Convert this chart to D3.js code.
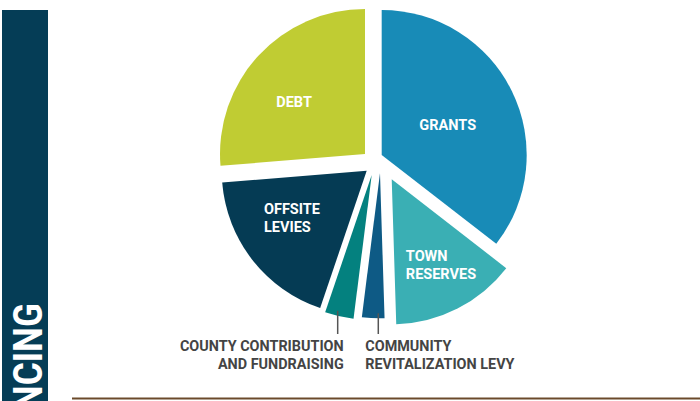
<!DOCTYPE html>
<html>
<head>
<meta charset="utf-8">
<script src="https://cdn.jsdelivr.net/npm/d3@7"></script>
<style>
  html, body { margin: 0; padding: 0; background: #fff; }
  svg { display: block; }
  .lbl { font-family: Roboto, "Liberation Sans", sans-serif; font-weight: 700; }
</style>
</head>
<body>
<svg id="chart" width="700" height="401"></svg>
<script>
/* ── DATI ─────────────────────────────────────── */
const categorie = ["GRANTS", "TOWN RESERVES", "COMMUNITY REVITALIZATION LEVY",
                   "COUNTY CONTRIBUTION AND FUNDRAISING", "OFFSITE LEVIES", "DEBT"];
const valori    = [35.5, 14, 2.5, 3.2, 18.5, 26.3];
const righe     = [["GRANTS"], ["TOWN", "RESERVES"], ["COMMUNITY", "REVITALIZATION LEVY"],
                   ["COUNTY CONTRIBUTION", "AND FUNDRAISING"], ["OFFSITE", "LEVIES"], ["DEBT"]];
const interno   = [true, true, false, false, true, true];
const titolo    = "FINANCING";

/* ── STILE ────────────────────────────────────── */
const colori  = ["#188bb7", "#3aafb4", "#0e5a85", "#04817f", "#053b54", "#c0cc33"];
// spostamento (esploso) di ogni fetta
const shift   = [[8.9, -5.5], [18.9, 18.8], [7.2, 12.8], [-1.1, 14.5], [-6.1, 10.2], [-7.8, -6.5]];
// posizione etichetta interna: raggio, correzione angolo (gradi), allineamento
const lblPos  = [[72.5, 1.7, "middle"], [98.6, -3, "start"], null, null, [88.3, 5.8, "start"], [88, -6.4, "middle"]];
// correzione angolo (gradi) delle linee guida esterne
const guida   = [0, 0, -2, 1.1, 0, 0];

const W = 700, H = 401;
const CX = 372.8, CY = 160.5, R = 145;

const svg = d3.select("#chart");

// banda laterale
svg.append("rect").attr("x", 2).attr("y", 10).attr("width", 46).attr("height", H - 10)
  .attr("fill", "#053d56");
svg.append("text")
  .attr("transform", "translate(42,303) rotate(-90) scale(0.86,1)")
  .attr("text-anchor", "end")
  .attr("fill", "#fff")
  .style("font-family", "Roboto, sans-serif")
  .style("font-weight", 700)
  .style("font-size", "41px")
  .text(titolo);

// linea di base
svg.append("rect").attr("x", 72).attr("y", 397.5).attr("width", W - 72).attr("height", 2)
  .attr("fill", "#6b4a2b");

/* ── TORTA ────────────────────────────────────── */
const pie = d3.pie().sort(null).value(d => d)(valori);
const arc = d3.arc().innerRadius(0).outerRadius(R);

const gPie = svg.append("g").attr("transform", `translate(${CX},${CY})`);

const fette = gPie.selectAll("g.fetta").data(pie).join("g")
  .attr("class", "fetta")
  .attr("transform", (d, i) => `translate(${shift[i][0]},${shift[i][1]})`);

fette.append("path")
  .attr("d", arc)
  .attr("fill", (d, i) => colori[i]);

// etichette interne
fette.each(function(d, i) {
  if (!interno[i]) return;
  const [r, da, anchor] = lblPos[i];
  const a = (d.startAngle + d.endAngle) / 2 + da * Math.PI / 180;
  const px = Math.sin(a) * r, py = -Math.cos(a) * r;
  const lines = righe[i];
  const lh = 18;
  const t = d3.select(this).append("text")
    .attr("class", "lbl")
    .attr("fill", "#fff")
    .style("font-size", "14.5px")
    .attr("text-anchor", anchor);
  lines.forEach((s, k) => {
    t.append("tspan").attr("x", 0).attr("y", py + 5 - (lines.length - 1) * lh / 2 + k * lh).text(s);
  });
  if (anchor === "start") {
    const w = t.node().getBBox().width;
    t.selectAll("tspan").attr("x", px - w / 2);
  } else {
    t.selectAll("tspan").attr("x", px);
  }
});

// etichette esterne con linee guida
const yLinea = 334;
fette.each(function(d, i) {
  if (interno[i]) return;
  const a = (d.startAngle + d.endAngle) / 2 + guida[i] * Math.PI / 180;
  const x = Math.sin(a) * (R - 5);
  const y = -Math.cos(a) * (R - 5);
  const g = d3.select(this);
  const yEnd = yLinea - CY - shift[i][1];
  g.append("line")
    .attr("x1", x).attr("x2", x).attr("y1", y).attr("y2", yEnd)
    .attr("stroke", "#555").attr("stroke-width", 1.5);
  const destra = i === 3;
  const t = g.append("text")
    .attr("class", "lbl")
    .attr("fill", "#444")
    .style("font-size", "14.4px")
    .attr("text-anchor", destra ? "end" : "start");
  righe[i].forEach((s, k) => {
    t.append("tspan")
      .attr("x", destra ? x + 6 : x - 13)
      .attr("y", yEnd + 17 + k * 18)
      .text(s);
  });
});
</script>
</body>
</html>
